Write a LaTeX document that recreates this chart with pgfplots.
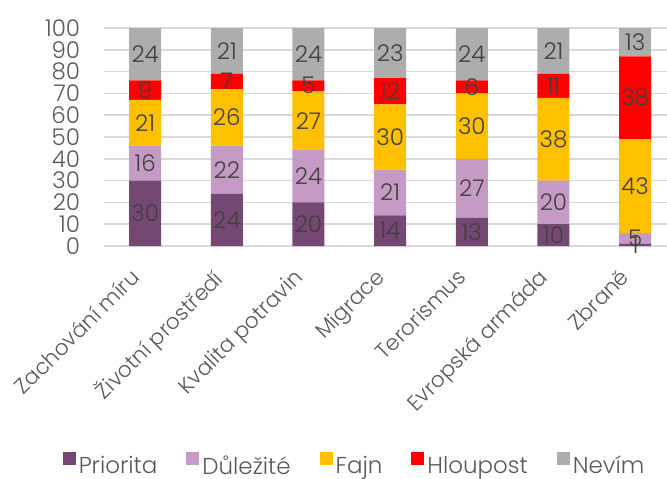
\documentclass[border=0pt]{standalone}
\usepackage{fontspec}
\IfFontExistsTF{Poppins Light}{\setmainfont{Poppins Light}}{\setmainfont{Poppins}}
\usepackage{pgfplots}
\pgfplotsset{compat=1.18}
\definecolor{cPri}{HTML}{754874}
\definecolor{cDul}{HTML}{C59BC5}
\definecolor{cFaj}{HTML}{FFC000}
\definecolor{cHlo}{HTML}{FF0000}
\definecolor{cNev}{HTML}{ADADAD}
\definecolor{gridc}{HTML}{D9D9D9}
\definecolor{tickc}{HTML}{595959}
\definecolor{labc}{HTML}{404040}
\newcommand{\bigf}{\fontsize{23}{25}\selectfont}
\newcommand{\xf}{\fontsize{21.5}{23}\selectfont}
\pgfplotsset{common/.style={
  at={(104.3pt,-246pt)}, anchor=south west,
  scale only axis, width=571.7pt, height=218pt,
  xmin=-0.5, xmax=6.5, ymin=0, ymax=100}}
\begin{document}
\begin{tikzpicture}
\begin{axis}[common,
  ybar stacked, bar width=32pt,
  xtick={0,...,6},
  xticklabels={Zachování míru, Životní prostředí, Kvalita potravin, Migrace, Terorismus, Evropská armáda, Zbraně},
  ytick={0,10,...,100},
  ymajorgrids, grid style={draw=gridc, line width=1.5pt},
  axis line style={draw=none}, major tick length=0pt,
  tick label style={font=\bigf, text=tickc},
  /pgf/number format/assume math mode=true,
  yticklabel style={xshift=-24pt, inner sep=0pt, anchor=east},
  xticklabel shift=21pt,
  xticklabel style={font=\xf, xshift=-16pt, rotate=45, anchor=north east, inner sep=0pt},
  legend style={at={(0.4386,-1.0046)}, anchor=center, draw=none, fill=none, font=\bigf, text=tickc,
    legend columns=5, nodes={inner xsep=3pt},
    /tikz/every even column/.append style={column sep=26pt}},
  legend image code/.code={\fill[#1] (0pt,0pt) rectangle (13pt,13pt);},
]
\addplot[fill=cPri, draw=none] coordinates {(0,30) (1,24) (2,20) (3,14) (4,13) (5,10) (6,1)};
\addplot[fill=cDul, draw=none] coordinates {(0,16) (1,22) (2,24) (3,21) (4,27) (5,20) (6,5)};
\addplot[fill=cFaj, draw=none] coordinates {(0,21) (1,26) (2,27) (3,30) (4,30) (5,38) (6,43)};
\addplot[fill=cHlo, draw=none] coordinates {(0,9) (1,7) (2,5) (3,12) (4,6) (5,11) (6,38)};
\addplot[fill=cNev, draw=none] coordinates {(0,24) (1,21) (2,24) (3,23) (4,24) (5,21) (6,13)};
\legend{Priorita, Důležité, Fajn, Hloupost, Nevím}
\end{axis}
\begin{axis}[common, hide axis, clip=false]
\addplot[only marks, mark=none, nodes near coords, point meta=explicit symbolic,
  nodes near coords style={anchor=center, font=\bigf, text=labc, inner sep=0pt}]
coordinates {
(0,15)[30] (0,38)[16] (0,56.5)[21] (0,71.5)[9] (0,88)[24]
(1,12)[24] (1,35)[22] (1,59)[26] (1,75.5)[7] (1,89.5)[21]
(2,10)[20] (2,32)[24] (2,57.5)[27] (2,73.5)[5] (2,88)[24]
(3,7)[14] (3,24.5)[21] (3,50)[30] (3,71)[12] (3,88.5)[23]
(4,6.5)[13] (4,26.5)[27] (4,55)[30] (4,73)[6] (4,88)[24]
(5,5)[10] (5,20)[20] (5,49)[38] (5,73.5)[11] (5,89.5)[21]
(6,0.5)[1] (6,3.5)[5] (6,27.5)[43] (6,68)[38] (6,93.5)[13]
};
\end{axis}
\pgfresetboundingbox
\path (0pt,0pt) rectangle (667pt,-479pt);
\end{tikzpicture}
\end{document}
